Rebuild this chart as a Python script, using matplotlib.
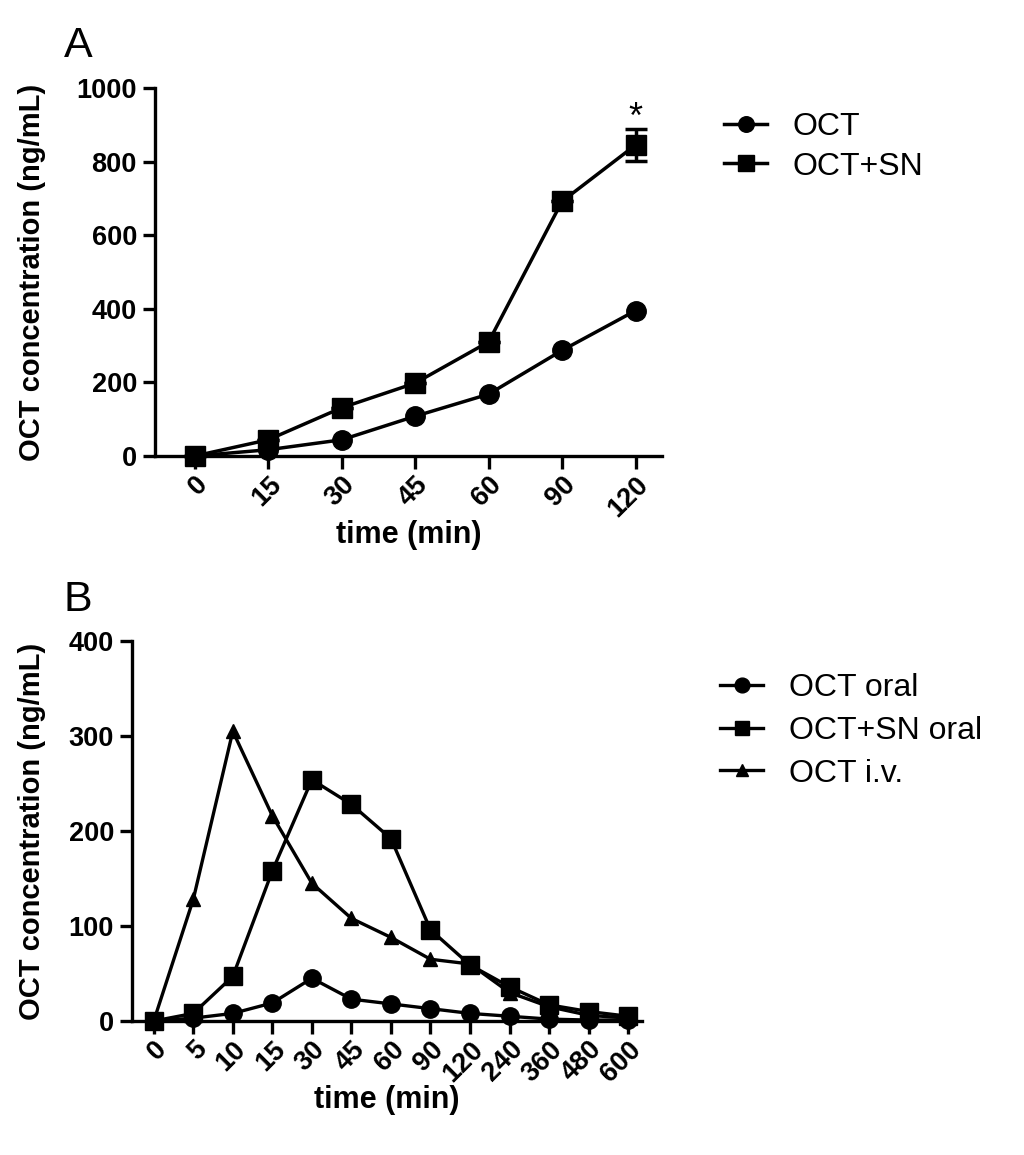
import numpy as np
import matplotlib
matplotlib.use("Agg")
import matplotlib.pyplot as plt

plt.rcParams['font.family'] = ['Liberation Sans', 'DejaVu Sans']

# Panel A data
a_times = ['0', '15', '30', '45', '60', '90', '120']
a_oct = [0, 17, 44, 108, 168, 287, 395]
a_oct_sn = [0, 44, 131, 198, 310, 692, 845]
a_oct_sn_err = [0, 0, 0, 0, 0, 0, 43]

# Panel B data
b_times = ['0', '5', '10', '15', '30', '45', '60', '90', '120', '240', '360', '480', '600']
b_oct_oral = [0, 3, 8, 19, 45, 23, 18, 13, 8, 5, 2, 1, 1]
b_oct_sn_oral = [0, 8, 47, 158, 254, 228, 192, 96, 59, 36, 17, 10, 5]
b_oct_iv = [0, 128, 305, 216, 145, 108, 88, 65, 60, 30, 15, 6, 3]

W, H = 1024, 1155
fig = plt.figure(figsize=(W / 100, H / 100), dpi=100)


def style_axes(ax, ymax, ystep, labels, ypad):
    ax.spines['top'].set_visible(False)
    ax.spines['right'].set_visible(False)
    for s in ('left', 'bottom'):
        ax.spines[s].set_linewidth(2.4)
    ax.tick_params(width=2.4, length=9, labelsize=19.5, pad=4)
    ax.tick_params(axis='x', pad=2)
    ax.set_ylim(0, ymax)
    ax.set_yticks(np.arange(0, ymax + 1, ystep))
    ax.set_xticks(range(len(labels)))
    ax.set_xticklabels(labels, rotation=45, ha='right', rotation_mode='anchor')
    for t in ax.get_xticklabels() + ax.get_yticklabels():
        t.set_fontweight('bold')
    ax.set_xlabel('time (min)', fontsize=22, fontweight='bold', labelpad=-1)
    ax.set_ylabel('OCT concentration (ng/mL)', fontsize=21, fontweight='bold', labelpad=ypad)


# ---- Panel A ----
axA = fig.add_axes([155 / W, 1 - 456 / H, (662 - 155) / W, (456 - 88) / H])
xa = np.arange(len(a_times))
lA1, = axA.plot(xa, a_oct, '-o', color='black', lw=2.5, ms=14, clip_on=False, zorder=3)
lA2 = axA.errorbar(xa, a_oct_sn, yerr=a_oct_sn_err, fmt='-s', color='black', lw=2.5,
                   ms=14, capsize=8, capthick=2.5, elinewidth=2.5, clip_on=False, zorder=3)
axA.text(xa[-1], a_oct_sn[-1] + a_oct_sn_err[-1] - 18, '*', ha='center', va='bottom',
         fontsize=26)
axA.set_xlim(-0.54, 6.36)
style_axes(axA, 1000, 200, a_times, 22)
fig.legend([lA1, lA2[0]], ['OCT', 'OCT+SN'], loc='upper left',
           bbox_to_anchor=(724 / W, 1 - 112 / H), frameon=False, fontsize=23,
           handlelength=1.35, handletextpad=0.8, labelspacing=0.3, borderpad=0,
           borderaxespad=0, markerscale=0.8)

# ---- Panel B ----
axB = fig.add_axes([132 / W, 1 - 1021 / H, (642 - 132) / W, (1021 - 641) / H])
xb = np.arange(len(b_times))
lB1, = axB.plot(xb, b_oct_oral, '-o', color='black', lw=2.4, ms=12.5, clip_on=False, zorder=3)
lB2, = axB.plot(xb, b_oct_sn_oral, '-s', color='black', lw=2.4, ms=12.5, clip_on=False, zorder=3)
lB3, = axB.plot(xb, b_oct_iv, '-^', color='black', lw=2.4, ms=10.5, clip_on=False, zorder=3)
axB.set_xlim(-0.55, 12.35)
style_axes(axB, 400, 100, b_times, 16)
fig.legend([lB1, lB2, lB3], ['OCT oral', 'OCT+SN oral', 'OCT i.v.'], loc='upper left',
           bbox_to_anchor=(720 / W, 1 - 673 / H), frameon=False, fontsize=23,
           handlelength=1.35, handletextpad=0.8, labelspacing=0.4, borderpad=0,
           borderaxespad=0, markerscale=0.85)

fig.text(78 / W, 1 - 46 / H, 'A', fontsize=31, ha='center', va='center')
fig.text(78 / W, 1 - 600 / H, 'B', fontsize=31, ha='center', va='center')

fig.savefig('out.png', dpi=100)
